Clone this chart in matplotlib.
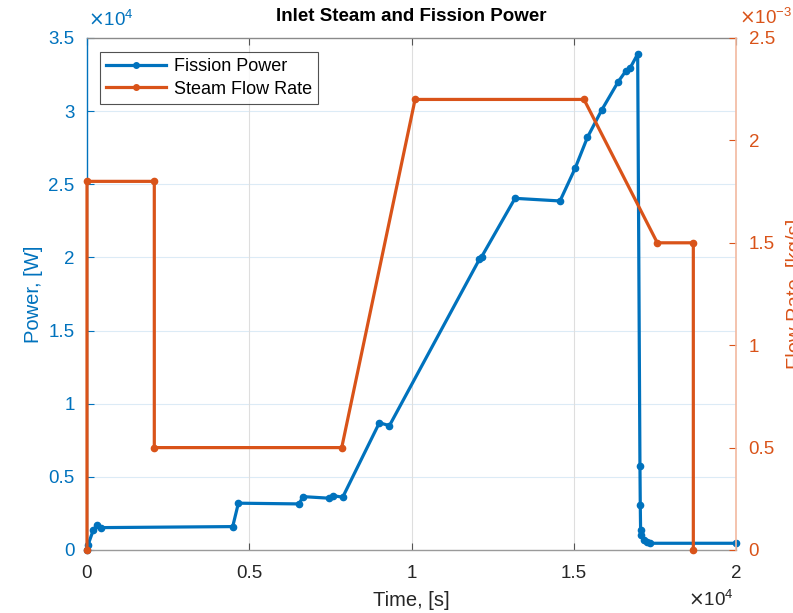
import numpy as np
import matplotlib
matplotlib.use('Agg')
import matplotlib.pyplot as plt
from matplotlib.ticker import FuncFormatter

plt.rcParams['font.family'] = ['Liberation Sans', 'DejaVu Sans']

# 核分裂出力 (Fission Power) [s], [W]
power_t = [0, 30, 195, 318, 420, 4490, 4665, 6540, 6650, 7470, 7570, 7880,
           9010, 9320, 12090, 12163, 13190, 14576, 15040, 15420, 15860,
           16370, 16610, 16730, 16970, 17040, 17050, 17060, 17080, 17150,
           17250, 17350, 20000]
power_w = [0, 340, 1370, 1710, 1530, 1600, 3200, 3150, 3650, 3540, 3720, 3610,
           8700, 8500, 19860, 20050, 24040, 23860, 26080, 28200, 30070,
           32010, 32760, 32920, 33900, 5750, 3080, 1370, 1000, 700,
           520, 460, 460]

# 蒸気流量 (Steam Flow Rate) [s], [kg/s]
flow_t = [0, 0, 2074, 2074, 7850, 10110, 15316, 17575, 18685, 18685]
flow_kg = [0, 1.8e-3, 1.8e-3, 0.5e-3, 0.5e-3, 2.2e-3, 2.2e-3, 1.5e-3, 1.5e-3, 0]

x_ticks = [0, 5000, 10000, 15000, 20000]
p_ticks = [0, 5000, 10000, 15000, 20000, 25000, 30000, 35000]
f_ticks = [0, 0.5e-3, 1e-3, 1.5e-3, 2e-3, 2.5e-3]

BLUE = '#0072BD'
ORANGE = '#D95319'

fig = plt.figure(figsize=(7.93, 6.13), dpi=100)
ax = fig.add_axes([87/793, 1-550/613, (736-87)/793, (550-38)/613])
ax2 = ax.twinx()

ax.set_xlim(0, 20000)
ax.set_ylim(0, 35000)
ax2.set_ylim(0, 2.5e-3)

# グリッド
for v in p_ticks[1:-1]:
    ax.axhline(v, color='#DCEBF6', lw=0.8, zorder=0)
for v in x_ticks[1:-1]:
    ax.axvline(v, color='#DEDEDE', lw=0.8, zorder=0)

l1, = ax.plot(power_t, power_w, '-o', color=BLUE, lw=2.3, ms=4.5,
              label='Fission Power', zorder=3, clip_on=False)
l2, = ax2.plot(flow_t, flow_kg, '-o', color=ORANGE, lw=2.3, ms=4.5,
               label='Steam Flow Rate', zorder=3, clip_on=False)

ax.set_xticks(x_ticks)
ax.set_yticks(p_ticks)
ax2.set_yticks(f_ticks)

def fmt(scale):
    def f(v, pos):
        return '%g' % (v / scale)
    return FuncFormatter(f)

ax.xaxis.set_major_formatter(fmt(1e4))
ax.yaxis.set_major_formatter(fmt(1e-4 * 1e8))
ax2.yaxis.set_major_formatter(fmt(1e-3))

ax.tick_params(axis='x', direction='in', length=5, labelsize=13.5,
               colors='#262626', pad=11, top=True)
ax.tick_params(axis='y', direction='in', length=5, labelsize=13.5,
               colors=BLUE, pad=9)
ax2.tick_params(axis='y', direction='in', length=5, labelsize=13.5,
                colors=ORANGE, pad=9)
ax.tick_params(axis='x', which='both', color='#555555')

ax.spines['left'].set_color(BLUE)
ax.spines['bottom'].set_color('#9A9A9A')
ax.spines['top'].set_color('#8A8A8A')
ax.spines['right'].set_visible(False)
ax2.spines['right'].set_color('#F2B9A0')
ax2.spines['left'].set_visible(False)
ax2.spines['top'].set_visible(False)
ax2.spines['bottom'].set_visible(False)
for s in ax.spines.values():
    s.set_linewidth(1.0)
ax2.spines['right'].set_linewidth(1.2)

ax.set_xlabel('Time, [s]', fontsize=14.5, color='#262626', labelpad=6)
ax.set_ylabel('Power, [W]', fontsize=14.5, color=BLUE, labelpad=4)
ax2.set_ylabel('Flow Rate, [kg/s]', fontsize=14.5, color=ORANGE,
               rotation=90, labelpad=8)

ax.set_title('Inlet Steam and Fission Power', fontsize=13.5,
             fontweight='bold', pad=12)

# 指数表示
fig.text(88/793, 1-20/613, r'$\times\mathregular{10^4}$', color=BLUE,
         fontsize=13.5, va='center', ha='left')
fig.text(739/793, 1-18/613, r'$\times\mathregular{10^{-3}}$', color=ORANGE,
         fontsize=13.5, va='center', ha='left')
fig.text(688/793, 1-600/613, r'$\times\mathregular{10^4}$', color='#262626',
         fontsize=13.5, va='center', ha='left')

leg = ax2.legend(handles=[l1, l2], loc='upper left', fontsize=13,
                 bbox_to_anchor=(0.02, 0.973), frameon=True, fancybox=False,
                 handlelength=3.3, borderpad=0.35, labelspacing=0.3,
                 handletextpad=0.45, borderaxespad=0)
leg.get_frame().set_edgecolor('#262626')
leg.get_frame().set_linewidth(0.8)
for h in leg.get_lines():
    h.set_markersize(4)

fig.savefig('out.png', dpi=100)
